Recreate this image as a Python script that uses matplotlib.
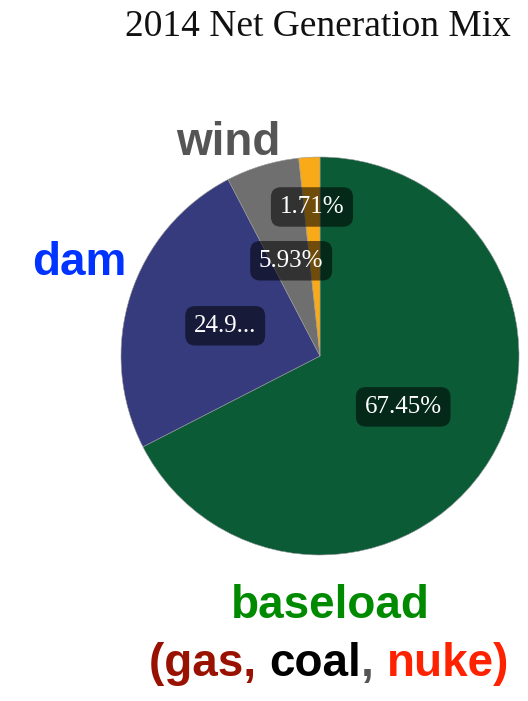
import matplotlib
matplotlib.use("Agg")
import matplotlib.pyplot as plt
import numpy as np

# donnees du camembert (sens horaire depuis midi)
valeurs = [67.45, 24.9, 5.93, 1.71]
etiquettes = ["67.45%", "24.9...", "5.93%", "1.71%"]
couleurs = ["#0b5b37", "#353b7c", "#6f6f6f", "#f8aa18"]
rayon_etiq = [0.49, 0.5, 0.5, 0.75]

titre = "2014 Net Generation Mix"
# morceaux de la legende du bas : (texte, couleur)
ligne_bas = [("(gas, ", "#991100"), ("coal", "#000000"), (", ", "#555555"),
             ("nuke)", "#ff2200")]

fig = plt.figure(figsize=(5.28, 7.01), dpi=100)
W, H = 528, 701

ax = fig.add_axes([(320 - 199) / W, 1 - (356 + 199) / H, 398 / W, 398 / H])
wedges, _ = ax.pie(valeurs, colors=couleurs, startangle=90, counterclock=False,
                   radius=1, wedgeprops=dict(linewidth=0.4, edgecolor="#9a9a9a"))
ax.set_xlim(-1, 1)
ax.set_ylim(-1, 1)
ax.set_aspect("equal")
ax.axis("off")

for w, lab, r in zip(wedges, etiquettes, rayon_etiq):
    ang = np.deg2rad((w.theta1 + w.theta2) / 2)
    ax.text(r * np.cos(ang), r * np.sin(ang), lab, ha="center", va="center",
            fontsize=18, color="white", family="Liberation Serif",
            bbox=dict(boxstyle="round,pad=0.35,rounding_size=0.4", fc="black",
                      ec="none", alpha=0.55))

fig.text(318 / W, 1 - 27 / H, titre, ha="center", va="center", fontsize=27,
         family="Liberation Serif", color="#111111")

bold = dict(family="Liberation Sans", fontweight="bold", fontsize=33)
fig.text(228 / W, 1 - 143 / H, "wind", ha="center", va="center",
         color="#555555", **bold)
fig.text(79 / W, 1 - 263 / H, "dam", ha="center", va="center",
         color="#0033ff", **bold)
fig.text(330 / W, 1 - 606 / H, "baseload", ha="center", va="center",
         color="#008a00", **bold)

# ligne multicolore : on pose les morceaux les uns apres les autres
rend = fig.canvas.get_renderer()
morceaux = []
for txt, c in ligne_bas:
    t = fig.text(0, 1 - 664 / H, txt, ha="left", va="center", color=c, **bold)
    morceaux.append(t)
larg = [t.get_window_extent(rend).width for t in morceaux]
x = 329 - sum(larg) / 2
for t, l in zip(morceaux, larg):
    t.set_x(x / W)
    x += l

fig.savefig("out.png", dpi=100)
